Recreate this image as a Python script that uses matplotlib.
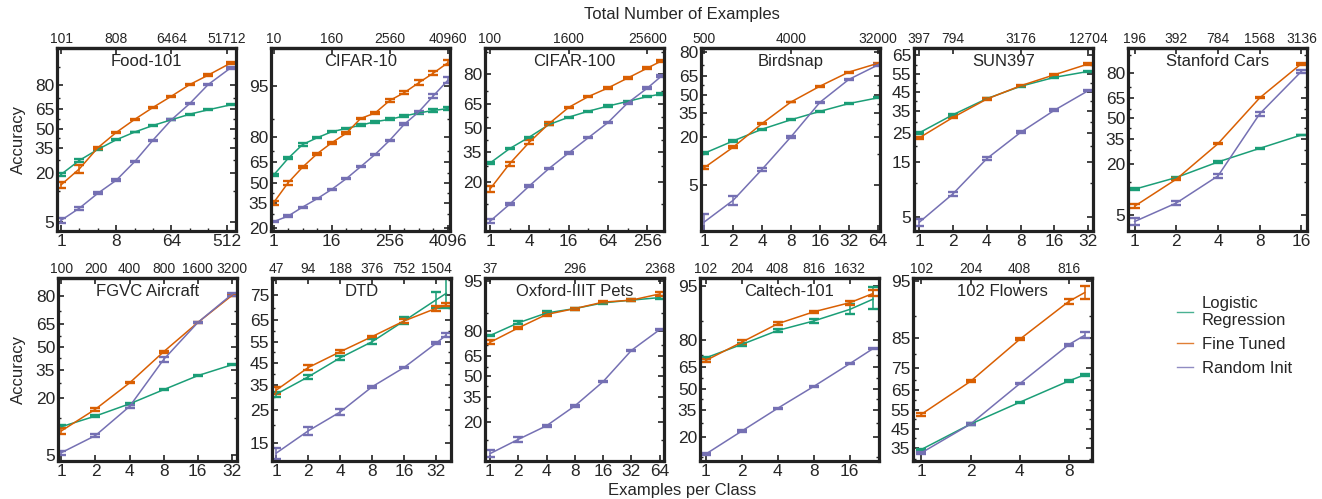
import numpy as np
import matplotlib
matplotlib.use("Agg")
from matplotlib import pyplot as plt
from matplotlib.lines import Line2D
from matplotlib.ticker import NullFormatter

plt.rcParams['font.family'] = ['Liberation Sans', 'DejaVu Sans']

C_LR = '#1b9e77'   # Logistic Regression
C_FT = '#d95f02'   # Fine Tuned
C_RI = '#7570b3'   # Random Init
TXT = '#262626'

# ---- данные (точность в %) ----
food_x = [1, 2, 4, 8, 16, 32, 64, 128, 256, 600]
food_lr = [19.2, 27.0, 34.3, 41.4, 47.4, 52.6, 57.0, 61.3, 64.5, 68.0]
food_ft = [14.6, 22.1, 35.5, 47.1, 57.3, 66.2, 73.6, 80.1, 84.4, 88.8]
food_ri = [5.3, 7.6, 11.6, 16.5, 26.2, 41.2, 57.0, 68.9, 80.1, 87.2]

c10_x = [1, 2, 4, 8, 16, 32, 64, 128, 256, 512, 1024, 2048, 4096]
c10_lr = [55.8, 67.8, 76.3, 79.8, 82.6, 84.0, 85.3, 86.6, 87.4, 88.5, 89.4, 90.1, 90.6]
c10_ft = [35.2, 50.0, 61.7, 70.8, 77.2, 81.9, 87.7, 89.4, 92.5, 94.0, 95.5, 96.6, 97.5]
c10_ri = [23.3, 26.5, 32.2, 38.0, 44.9, 53.0, 62.0, 70.4, 78.5, 85.6, 89.7, 93.4, 95.8]

c100_x = [1, 2, 4, 8, 16, 32, 64, 128, 256, 420]
c100_lr = [29.1, 37.3, 44.4, 52.4, 57.1, 60.8, 63.9, 66.6, 69.3, 70.7]
c100_ft = [17.4, 28.8, 41.2, 53.0, 63.1, 69.3, 73.8, 78.4, 82.4, 84.9]
c100_ri = [8.45, 12.5, 18.6, 26.3, 34.7, 44.0, 53.7, 65.7, 73.7, 79.2]

bird_x = [1, 2, 4, 8, 16, 32, 64]
bird_lr = [12.8, 18.0, 24.4, 30.5, 36.6, 42.7, 47.3]
bird_ft = [8.4, 15.2, 28.0, 44.0, 56.8, 67.6, 73.5]
bird_ri = [1.53, 3.06, 8.0, 20.1, 43.7, 62.1, 72.4]

sun_x = [1, 2, 4, 8, 16, 32]
sun_lr = [25.1, 33.3, 41.5, 48.2, 53.1, 56.3]
sun_ft = [23.1, 32.0, 41.3, 48.5, 54.5, 60.3]
sun_ri = [4.5, 8.1, 16.0, 25.3, 35.5, 45.8]

cars_x = [1, 2, 4, 8, 16]
cars_lr = [10.3, 14.1, 20.9, 28.6, 37.6]
cars_ft = [6.4, 13.5, 31.6, 65.2, 84.2]
cars_ri = [4.1, 7.0, 14.7, 53.5, 80.8]

air_x = [1, 2, 4, 8, 16, 32]
air_lr = [10.2, 13.2, 17.5, 23.8, 31.4, 38.1]
air_ft = [9.2, 15.5, 27.3, 46.8, 66.1, 80.3]
air_ri = [5.3, 8.2, 16.5, 41.6, 66.1, 80.8]

dtd_x = [1, 2, 4, 8, 16, 32, 40]
dtd_lr = [31.0, 38.5, 47.4, 55.1, 64.6, 73.2, 75.6]
dtd_ft = [32.7, 42.8, 50.3, 57.5, 64.6, 69.9, 71.3]
dtd_ri = [12.7, 18.2, 24.2, 34.1, 42.8, 54.3, 58.2]

pets_x = [1, 2, 4, 8, 16, 32, 64]
pets_lr = [77.9, 83.9, 87.6, 89.0, 90.6, 91.3, 91.9]
pets_ft = [74.1, 81.7, 87.1, 89.0, 90.8, 91.3, 92.7]
pets_ri = [8.5, 12.6, 18.0, 28.8, 46.1, 69.1, 80.9]

cal_x = [1, 2, 4, 8, 16, 25]
cal_lr = [70.8, 78.1, 84.2, 87.5, 90.7, 92.9]
cal_ft = [69.2, 79.2, 86.6, 90.1, 92.2, 93.9]
cal_ri = [13.3, 22.9, 36.4, 51.7, 67.3, 76.0]

flw_x = [1, 2, 4, 8, 10]
flw_lr = [34.5, 47.5, 59.0, 69.4, 72.1]
flw_ft = [52.7, 69.2, 84.6, 92.5, 93.7]
flw_ri = [32.9, 47.5, 68.1, 83.1, 85.7]

# заметные погрешности (в %), остальные - маленькие
ERR_SMALL = 0.35
err_big = {
    ('Food-101', 'ft'): [1.2, 2.0, 0.8, 0.4, 0.4, 0.4, 0.4, 0.4, 0.4, 0.4],
    ('Food-101', 'lr'): [0.6, 0.8, 0.4, 0.3, 0.3, 0.3, 0.3, 0.3, 0.3, 0.3],
    ('CIFAR-10', 'ft'): [1.5, 1.4, 0.9, 0.6, 0.5, 0.4, 0.3, 0.3, 0.3, 0.3, 0.3, 0.2, 0.2],
    ('CIFAR-10', 'lr'): [0.8, 0.6, 0.8, 0.3, 0.3, 0.3, 0.3, 0.3, 0.3, 0.3, 0.3, 0.3, 0.3],
    ('CIFAR-100', 'ft'): [1.2, 1.0, 1.2, 0.8, 0.5, 0.4, 0.4, 0.4, 0.4, 0.4],
    ('Birdsnap', 'ri'): [0.45, 0.45, 0.3, 0.4, 0.4, 0.4, 0.4],
    ('Stanford Cars', 'ri'): [0.4, 0.4, 0.6, 1.5, 0.8],
    ('FGVC Aircraft', 'ri'): [0.3, 0.3, 0.6, 1.5, 0.5, 0.6],
    ('FGVC Aircraft', 'ft'): [0.6, 0.6, 0.3, 0.6, 0.4, 0.3],
    ('DTD', 'lr'): [1.0, 0.8, 1.0, 1.2, 1.5, 3.0, 5.5],
    ('DTD', 'ft'): [1.5, 1.0, 0.8, 0.4, 0.8, 1.0, 0.6],
    ('DTD', 'ri'): [1.2, 1.2, 1.0, 0.5, 0.4, 0.5, 0.8],
    ('Oxford-IIIT Pets', 'ft'): [1.2, 0.6, 0.5, 0.3, 0.3, 0.3, 0.4],
    ('Oxford-IIIT Pets', 'lr'): [0.5, 0.6, 0.5, 0.3, 0.3, 0.3, 0.3],
    ('Oxford-IIIT Pets', 'ri'): [0.8, 0.9, 0.4, 0.6, 0.6, 0.4, 0.4],
    ('Caltech-101', 'lr'): [0.8, 0.6, 0.4, 0.6, 1.2, 2.0],
    ('Caltech-101', 'ft'): [0.8, 0.8, 0.5, 0.3, 0.4, 0.5],
    ('Flowers', 'ft'): [0.8, 0.5, 0.3, 0.4, 0.8],
    ('Flowers', 'ri'): [0.5, 0.4, 0.3, 0.3, 0.8],
}

# name, classes, x, lr, ft, ri, y ticks, (ymin, ymax), bottom ticks, top ticks, (xmin, xmax) in log2
panels_top = [
    ('Food-101', 101, food_x, food_lr, food_ft, food_ri, [5, 20, 35, 50, 65, 80], (3.85, 92.7),
     [1, 8, 64, 512], [1, 8, 64, 512], (-0.22, 9.51)),
    ('CIFAR-10', 10, c10_x, c10_lr, c10_ft, c10_ri, [20, 35, 50, 65, 80, 95], (18.6, 98.4),
     [1, 16, 256, 4096], [1, 16, 256, 4096], (-0.18, 12.16)),
    ('CIFAR-100', 100, c100_x, c100_lr, c100_ft, c100_ri, [20, 35, 50, 65, 80], (6.7, 88.7),
     [1, 4, 16, 64, 256], [1, 16, 256], (-0.256, 8.85)),
    ('Birdsnap', 500, bird_x, bird_lr, bird_ft, bird_ri, [5, 20, 35, 50, 65, 80], (1.14, 82.1),
     [1, 2, 4, 8, 16, 32, 64], [1, 8, 64], (-0.117, 6.08)),
    ('SUN397', 397, sun_x, sun_lr, sun_ft, sun_ri, [5, 15, 25, 35, 45, 55, 65], (3.74, 68.3),
     [1, 2, 4, 8, 16, 32], [1, 2, 8, 32], (-0.158, 5.14)),
    ('Stanford Cars', 196, cars_x, cars_lr, cars_ft, cars_ri, [5, 20, 35, 50, 65, 80], (3.1, 89.6),
     [1, 2, 4, 8, 16], [1, 2, 4, 8, 16], (-0.159, 4.135)),
]
panels_bot = [
    ('FGVC Aircraft', 100, air_x, air_lr, air_ft, air_ri, [5, 20, 35, 50, 65, 80], (4.27, 86.8),
     [1, 2, 4, 8, 16, 32], [1, 2, 4, 8, 16, 32], (-0.098, 5.15)),
    ('DTD', 47, dtd_x, dtd_lr, dtd_ft, dtd_ri, [15, 25, 35, 45, 55, 65, 75], (11.1, 80.6),
     [1, 2, 4, 8, 16, 32], [1, 2, 4, 8, 16, 32], (-0.136, 5.47)),
    ('Oxford-IIIT Pets', 37, pets_x, pets_lr, pets_ft, pets_ri, [20, 35, 50, 65, 80, 95], (6.9, 95.4),
     [1, 2, 4, 8, 16, 32, 64], [1, 8, 64], (-0.176, 6.15)),
    ('Caltech-101', 102, cal_x, cal_lr, cal_ft, cal_ri, [20, 35, 50, 65, 80, 95], (11.2, 96.0),
     [1, 2, 4, 8, 16], [1, 2, 4, 8, 16], (-0.156, 4.81)),
    ('Flowers', 102, flw_x, flw_lr, flw_ft, flw_ri, [35, 45, 55, 65, 75, 85, 95], (29.2, 95.3),
     [1, 2, 4, 8], [1, 2, 4, 8], (-0.169, 3.47)),
]
titles = {'Flowers': '102 Flowers'}

W, H = 1322, 499
fig = plt.figure(figsize=(W / 100, H / 100), dpi=100)


def make_axes(left, top, bottom, width=179):
    return fig.add_axes([left / W, 1 - bottom / H, width / W, (bottom - top) / H])


def draw_panel(ax, p):
    name, ncls, x, lr, ft, ri, yt, ylim, xbot, xtop, xl = p
    ax.set_xscale('log', base=2)
    ax.set_yscale('logit')
    for key, vals, col in (('lr', lr, C_LR), ('ft', ft, C_FT), ('ri', ri, C_RI)):
        e = err_big.get((name, key), [ERR_SMALL] * len(vals))
        ax.errorbar(x, np.array(vals) / 100, yerr=np.array(e) / 100, color=col,
                    lw=1.1, elinewidth=1.1, capsize=3.6, capthick=1.7)
    ax.set_xlim(2 ** xl[0], 2 ** xl[1])
    ax.set_ylim(ylim[0] / 100, ylim[1] / 100)

    # y ticks
    ax.set_yticks([v / 100 for v in yt], labels=[str(v) for v in yt])
    step = yt[1] - yt[0]
    minors = []
    v = yt[0] - step / 2
    while v < ylim[1]:
        if v > ylim[0] and v not in yt and 0 < v < 100:
            minors.append(v / 100)
        v += step / 2
    ax.set_yticks(minors, minor=True)
    ax.yaxis.set_minor_formatter(NullFormatter())

    # x ticks
    ax.set_xticks(xbot, labels=[str(v) for v in xbot])
    xm = [2 ** k for k in range(0, int(xl[1]) + 1) if 2 ** k not in xbot]
    ax.set_xticks(xm, minor=True)
    ax.xaxis.set_minor_formatter(NullFormatter())

    ax.tick_params(which='both', direction='in', top=False, right=True, colors='#222222',
                   labelcolor=TXT)
    ax.tick_params(which='major', length=4, width=1.2, labelsize=12.5, pad=2)
    ax.tick_params(which='minor', length=2.5, width=1.0)
    for s in ax.spines.values():
        s.set_linewidth(2.3)
        s.set_color('#222222')

    sec = ax.secondary_xaxis('top')
    sec.set_xticks(xtop, labels=[str(v * ncls) for v in xtop])
    sec.tick_params(direction='in', length=4, width=1.2, labelsize=10, pad=1.5,
                    colors='#222222', labelcolor=TXT)
    sec.xaxis.set_minor_locator(plt.NullLocator())
    sec.spines['top'].set_linewidth(2.3)
    sec.spines['top'].set_color('#222222')

    ax.text(0.5, 0.965, titles.get(name, name), transform=ax.transAxes, ha='center',
            va='top', fontsize=12, color=TXT)


top_lefts = [57, 271, 485, 701, 914, 1128]
for left, p in zip(top_lefts, panels_top):
    draw_panel(make_axes(left, 48, 231), p)

bot_lefts = [58, 272, 485, 700, 913]
for left, p in zip(bot_lefts, panels_bot):
    draw_panel(make_axes(left, 278, 461), p)

fig.text(682 / W, 1 - 15 / H, 'Total Number of Examples', ha='center', va='center',
         fontsize=12, color=TXT)
fig.text(682 / W, 1 - 490 / H, 'Examples per Class', ha='center', va='center',
         fontsize=12, color=TXT)
fig.text(18 / W, 1 - 139 / H, 'Accuracy', rotation=90, ha='center', va='center',
         fontsize=12, color=TXT)
fig.text(18 / W, 1 - 370 / H, 'Accuracy', rotation=90, ha='center', va='center',
         fontsize=12, color=TXT)

handles = [Line2D([], [], color=C_LR, lw=1.0, alpha=0.8),
           Line2D([], [], color=C_FT, lw=1.0, alpha=0.8),
           Line2D([], [], color=C_RI, lw=1.0, alpha=0.8)]
fig.legend(handles, ['Logistic\nRegression', 'Fine Tuned', 'Random Init'],
           loc='upper left', bbox_to_anchor=(1162 / W, 1 - 281 / H), frameon=False,
           fontsize=12, handlelength=0.95, handletextpad=0.55, labelspacing=0.53,
           labelcolor=TXT)

fig.savefig('out.png', dpi=100)
